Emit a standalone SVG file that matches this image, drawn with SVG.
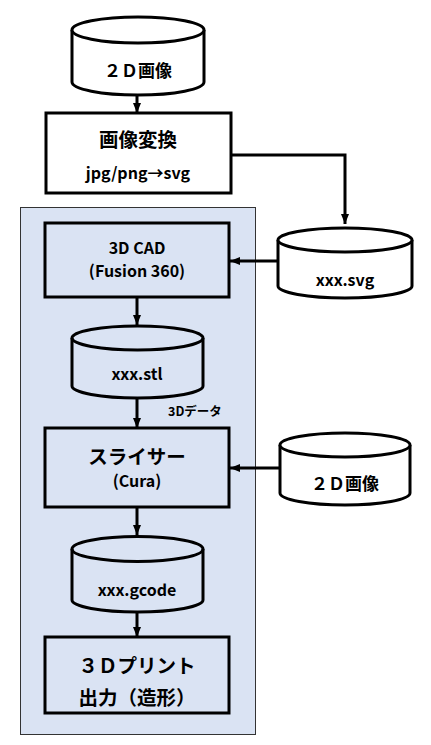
<svg xmlns="http://www.w3.org/2000/svg" width="431" height="745" viewBox="0 0 431 745">
<style>
.t{font-family:"Noto Sans CJK JP","Noto Sans",sans-serif;font-weight:bold;fill:#000;text-anchor:middle;dominant-baseline:central}
.b{stroke:#000;stroke-width:3;fill:none}
.w{fill:#fff}
.c{stroke:#000;stroke-width:3;fill:none}
</style>
<defs>
<marker id="ah" markerUnits="userSpaceOnUse" markerWidth="10" markerHeight="10" viewBox="0 0 10 10" refX="10" refY="5" orient="auto">
<path d="M0,1 L10,5 L0,9 Z" fill="#000"/>
</marker>
</defs>
<rect x="0" y="0" width="431" height="745" fill="#fff"/>
<g id="panel"><rect x="20.5" y="207.5" width="235" height="527" fill="#dae3f3" stroke="#333" stroke-width="1"/></g>
<g id="connectors">
<line class="c" x1="137" y1="95" x2="137" y2="113" marker-end="url(#ah)"/>
<polyline class="c" points="231,155 345,155 345,224" marker-end="url(#ah)"/>
<line class="c" x1="278" y1="261" x2="230" y2="261" marker-end="url(#ah)"/>
<line class="c" x1="137" y1="297" x2="137" y2="325" marker-end="url(#ah)"/>
<line class="c" x1="137" y1="398" x2="137" y2="428" marker-end="url(#ah)"/>
<line class="c" x1="280" y1="468" x2="230" y2="468" marker-end="url(#ah)"/>
<line class="c" x1="137" y1="507" x2="137" y2="535" marker-end="url(#ah)"/>
<line class="c" x1="137" y1="612" x2="137" y2="637" marker-end="url(#ah)"/>
</g>
<g id="img2d_top">
<path class="b w" d="M72,30 L72,82 A66,13 0 0 0 204,82 L204,30"/>
<ellipse class="b w" cx="138" cy="30" rx="66" ry="13"/>
<text class="t" x="138" y="69" font-size="17">２Ｄ画像</text>
</g>
<g id="convert">
<rect class="b w" x="46" y="113" width="185" height="80"/>
<text class="t" x="138" y="138" font-size="19.5">画像変換</text>
<text class="t" x="138" y="172" font-size="16">jpg/png→svg</text>
</g>
<g id="svgfile">
<path class="b w" d="M278,240 L278,286 A67,12 0 0 0 412,286 L412,240"/>
<ellipse class="b w" cx="345" cy="240" rx="67" ry="12"/>
<text class="t" x="345" y="279" font-size="16">xxx.svg</text>
</g>
<g id="cad">
<rect class="b" x="45" y="223" width="184" height="74"/>
<text class="t" x="137" y="247" font-size="16">3D CAD</text>
<text class="t" x="137" y="270" font-size="16">(Fusion 360)</text>
</g>
<g id="stl">
<path class="b" d="M72,338 L72,386 A65.5,12 0 0 0 203,386 L203,338"/>
<ellipse class="b" cx="137.5" cy="338" rx="65.5" ry="12"/>
<text class="t" x="137" y="373" font-size="16">xxx.stl</text>
</g>
<text class="t" x="168" y="410" font-size="12.5" style="text-anchor:start">3Dデータ</text>
<g id="slicer">
<rect class="b" x="45" y="428" width="184" height="79"/>
<text class="t" x="137" y="455" font-size="19.5">スライサー</text>
<text class="t" x="137" y="480" font-size="16">(Cura)</text>
</g>
<g id="img2d_right">
<path class="b w" d="M280,445 L280,493 A65,12 0 0 0 410,493 L410,445"/>
<ellipse class="b w" cx="345" cy="445" rx="65" ry="12"/>
<text class="t" x="345" y="482" font-size="17">２Ｄ画像</text>
</g>
<g id="gcode">
<path class="b" d="M72,549 L72,600 A65.5,12 0 0 0 203,600 L203,549"/>
<ellipse class="b" cx="137.5" cy="549" rx="65.5" ry="12.5"/>
<text class="t" x="137" y="589" font-size="16">xxx.gcode</text>
</g>
<g id="print">
<rect class="b" x="45" y="637" width="184" height="76"/>
<text class="t" x="137" y="664" font-size="19.5">３Ｄプリント</text>
<text class="t" x="137" y="696" font-size="19.5">出力（造形）</text>
</g>
</svg>
